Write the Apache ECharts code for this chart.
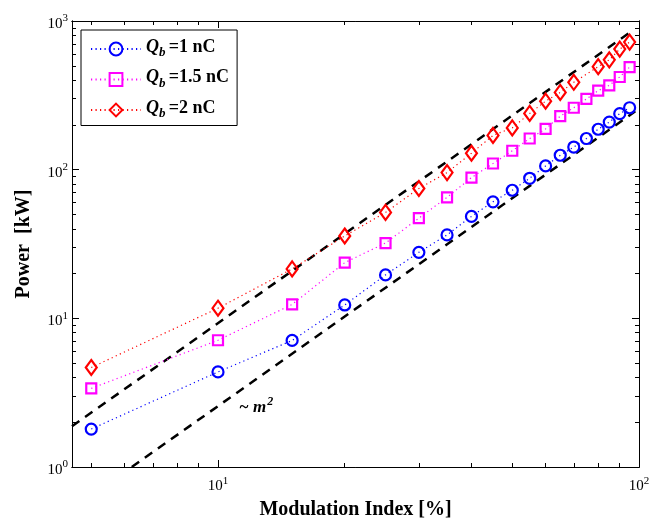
<!DOCTYPE html>
<html>
<head>
<meta charset="utf-8">
<script src="https://cdn.jsdelivr.net/npm/echarts@6/dist/echarts.min.js"></script>
<style>html,body{margin:0;padding:0;background:#fff;}#c{width:660px;height:525px;}</style>
</head>
<body>
<div id="c"></div>
<script>
// ---- data ----
const xVals = [5,10,15,20,25,30,35,40,45,50,55,60,65,70,75,80,85,90,95];
const blueVals = [1.80,4.36,7.1,12.3,19.6,27.8,36.4,48.5,60.8,72.7,87.5,106,125,142,162,187,209,238,261];
const magentaVals = [3.38,7.12,12.4,23.7,32.1,47.2,65.1,88.5,110,134,162,188,229,261,299,340,369,420,490];
const redX = [5,10,15,20,25,30,35,40,45,50,55,60,65,70,80,85,90,95];
const redVals = [4.67,11.7,21.5,35.8,51.6,74.7,95.6,129,170,191,239,289,331,387,493,548,647,721];
const refUpperX = [4.5,96];
const refUpperY = [1.88,853];
const refLowerX = [6.24,98];
const refLowerY = [1.0,247];
const seriesNames = ['Qb1','Qb15','Qb2'];
const legendLabels = {Qb1:'=1 nC', Qb15:'=1.5 nC', Qb2:'=2 nC'};
const xMajorTicks = [10,100];
const xMinorTicks = [5,6,7,8,9,20,30,40,50,60,70,80,90];
const yMajorTicks = [1,10,100,1000];
const yMinorTicks = [2,3,4,5,6,7,8,9,20,30,40,50,60,70,80,90,200,300,400,500,600,700,800,900];

const FONT = 'Liberation Serif';
const zip = (a,b) => a.map((v,i)=>[v,b[i]]);

const supRich = {
  b: {fontFamily: FONT, fontSize: 15, color: '#000', padding: [6,0,0,0]},
  s: {fontFamily: FONT, fontSize: 11, color: '#000', padding: [0,0,5,0]}
};
const powFmt = v => '{b|10}{s|' + Math.round(Math.log10(v)) + '}';

function mkAxis(kind, pos, major, ticks, labels, extra) {
  const ax = {
    type: 'log', logBase: 10, position: pos,
    min: kind === 'x' ? 4.5 : 1, max: kind === 'x' ? 100 : 1000,
    axisLine: {show: true, onZero: false, lineStyle: {color: '#000', width: 1}},
    axisTick: {show: true, inside: true, length: major ? 7 : 4, customValues: ticks, lineStyle: {color: '#000', width: 1}},
    axisLabel: labels ? {show: true, customValues: labels, formatter: powFmt, rich: supRich, margin: kind === 'x' ? 6 : 4} : {show: false},
    splitLine: {show: false}, minorTick: {show: false}, minorSplitLine: {show: false}
  };
  return Object.assign(ax, extra || {});
}

const chart = echarts.init(document.getElementById('c'), null, {renderer: 'canvas'});
chart.setOption({
  backgroundColor: '#fff',
  animation: false,
  grid: {left: 72, right: 21, top: 21, bottom: 56, containLabel: false},
  xAxis: [
    mkAxis('x','bottom',true,xMajorTicks,xMajorTicks,{
      name: 'Modulation Index [%]', nameLocation: 'middle', nameGap: 33,
      nameTextStyle: {fontFamily: FONT, fontSize: 20, fontWeight: 'bold', color: '#000'}
    }),
    mkAxis('x','bottom',false,xMinorTicks,null),
    mkAxis('x','top',true,xMajorTicks,null),
    mkAxis('x','top',false,xMinorTicks,null)
  ],
  yAxis: [
    mkAxis('y','left',true,yMajorTicks,yMajorTicks,{
      name: 'Power  [kW]', nameLocation: 'middle', nameGap: 38, nameRotate: 90,
      nameTextStyle: {fontFamily: FONT, fontSize: 20, fontWeight: 'bold', color: '#000'}
    }),
    mkAxis('y','left',false,yMinorTicks,null),
    mkAxis('y','right',true,yMajorTicks,null),
    mkAxis('y','right',false,yMinorTicks,null)
  ],
  legend: {
    data: seriesNames,
    left: 81, top: 30, orient: 'vertical',
    itemWidth: 50, itemHeight: 16, itemGap: 9,
    padding: [8, 8, 5, 9],
    borderColor: '#000', borderWidth: 1, backgroundColor: '#fff',
    selectedMode: false,
    formatter: n => '{q|Q}{sub|b} {t|' + legendLabels[n] + '}',
    textStyle: {
      color: '#000',
      rich: {
        q: {fontFamily: FONT, fontSize: 18, fontWeight: 'bold', fontStyle: 'italic', color: '#000', padding: [0,0,4,0]},
        sub: {fontFamily: FONT, fontSize: 13, fontWeight: 'bold', fontStyle: 'italic', color: '#000', padding: [8,0,0,0]},
        t: {fontFamily: FONT, fontSize: 18, fontWeight: 'bold', color: '#000', padding: [0,0,4,0]}
      }
    }
  },
  graphic: [{
    type: 'text', left: 239, top: 396, z: 100,
    style: {
      text: '{m|~ m}{s|2}',
      rich: {
        m: {fontFamily: FONT, fontSize: 17, fontWeight: 'bold', fontStyle: 'italic', fill: '#000', padding: [7,0,0,0]},
        s: {fontFamily: FONT, fontSize: 12, fontWeight: 'bold', fontStyle: 'italic', fill: '#000', padding: [0,0,5,1]}
      }
    }
  }],
  series: [
    {type: 'line', name: 'refUpper', data: zip(refUpperX, refUpperY), showSymbol: false, symbol: 'none',
     lineStyle: {color: '#000', width: 2.5, type: [9,7]}, z: 1, silent: true},
    {type: 'line', name: 'refLower', data: zip(refLowerX, refLowerY), showSymbol: false, symbol: 'none',
     lineStyle: {color: '#000', width: 2.5, type: [9,7]}, z: 1, silent: true},
    {type: 'line', name: 'Qb1', data: zip(xVals, blueVals), symbol: 'circle', symbolSize: 11,
     lineStyle: {color: '#0000ff', width: 1.2, type: [1.2,3.3]},
     itemStyle: {color: 'rgba(0,0,0,0)', borderColor: '#0000ff', borderWidth: 2.2}, z: 3},
    {type: 'line', name: 'Qb15', data: zip(xVals, magentaVals), symbol: 'rect', symbolSize: 10,
     lineStyle: {color: '#ff00ff', width: 1.2, type: [1.2,3.3]},
     itemStyle: {color: 'rgba(0,0,0,0)', borderColor: '#ff00ff', borderWidth: 2.2}, z: 3},
    {type: 'line', name: 'Qb2', data: zip(redX, redVals), symbol: 'diamond', symbolSize: [11,15],
     lineStyle: {color: '#ff0000', width: 1.2, type: [1.2,3.3]},
     itemStyle: {color: 'rgba(0,0,0,0)', borderColor: '#ff0000', borderWidth: 2.2}, z: 3}
  ]
});
</script>
</body>
</html>
